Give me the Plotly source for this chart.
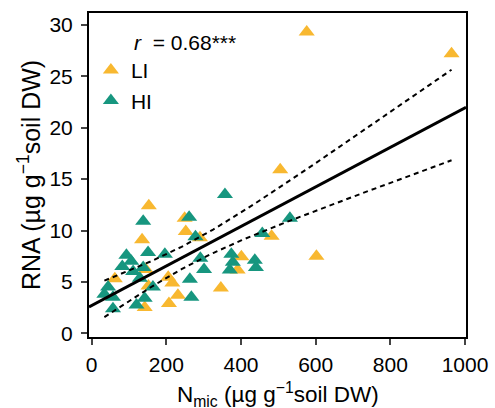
import numpy as np
import plotly.graph_objects as go

# ---- data ----
LI_X = [62, 135, 142, 145, 152, 153, 205, 216, 231, 207, 249, 252, 290, 346, 391, 401, 482, 505, 576, 602, 964]
LI_Y = [5.3, 9.1, 2.5, 6.2, 4.6, 12.4, 5.45, 4.9, 3.7, 2.9, 11.2, 9.9, 9.3, 4.4, 6.15, 7.45, 9.45, 15.9, 29.3, 7.5, 27.2]

HI_X = [34, 44, 57, 57, 82, 93, 106, 111, 120, 129, 138, 138, 142, 151, 164, 196,
        261, 278, 263, 267, 291, 301, 357, 374, 378, 370, 437, 440, 457, 531]
HI_Y = [3.8, 4.5, 3.5, 2.4, 6.5, 7.6, 7.0, 6.0, 2.75, 5.35, 6.4, 10.9, 3.4, 7.85, 4.5, 7.7,
        11.3, 9.4, 5.25, 3.5, 7.3, 6.2, 13.5, 7.7, 6.9, 6.15, 7.1, 6.4, 9.7, 11.2]

X_TICKS = [0, 200, 400, 600, 800, 1000]
Y_TICKS = [0, 5, 10, 15, 20, 25, 30]
X_RANGE = [-7.2, 1002.7]
Y_RANGE = [-0.36, 31.16]
R_TEXT = "<i>r</i>  = 0.68***"
X_TITLE = "N<sub>mic</sub> (µg g<sup>−1</sup>soil DW)"
Y_TITLE = "RNA (µg g<sup>−1</sup>soil DW)"
T_CRIT = 2.01  # t(0.975, n-2)

YELLOW = "#F8B830"
TEAL = "#17967F"

# ---- regression on all points ----
x_all = np.array(LI_X + HI_X, dtype=float)
y_all = np.array(LI_Y + HI_Y, dtype=float)
n = len(x_all)
slope, intercept = np.polyfit(x_all, y_all, 1)
resid = y_all - (intercept + slope * x_all)
s = np.sqrt(np.sum(resid ** 2) / (n - 2))
xbar = x_all.mean()
sxx = np.sum((x_all - xbar) ** 2)

xl = np.linspace(X_RANGE[0], X_RANGE[1], 50)
yl = intercept + slope * xl
xc = np.linspace(x_all.min(), x_all.max(), 100)
yc = intercept + slope * xc
half = T_CRIT * s * np.sqrt(1 / n + (xc - xbar) ** 2 / sxx)

FONT = "Liberation Sans, Arial, Helvetica, sans-serif"

fig = go.Figure()
fig.add_trace(go.Scatter(x=LI_X, y=LI_Y, mode="markers", name="LI",
                         marker=dict(symbol="triangle-up", size=14, color=YELLOW,
                                     line=dict(width=0))))
fig.add_trace(go.Scatter(x=HI_X, y=HI_Y, mode="markers", name="HI",
                         marker=dict(symbol="triangle-up", size=14, color=TEAL,
                                     line=dict(width=0))))
fig.add_trace(go.Scatter(x=xl, y=yl, mode="lines", showlegend=False,
                         line=dict(color="black", width=3)))
fig.add_trace(go.Scatter(x=xc, y=yc + half, mode="lines", showlegend=False,
                         line=dict(color="black", width=2, dash="5px,4px")))
fig.add_trace(go.Scatter(x=xc, y=yc - half, mode="lines", showlegend=False,
                         line=dict(color="black", width=2, dash="5px,4px")))

fig.update_layout(
    width=495, height=408,
    margin=dict(l=89, r=29, t=13, b=71),
    paper_bgcolor="white", plot_bgcolor="white",
    font=dict(family=FONT, size=21, color="black"),
    showlegend=True,
    legend=dict(x=0.005, y=0.886, xanchor="left", yanchor="top",
                bgcolor="rgba(0,0,0,0)", font=dict(size=21),
                tracegroupgap=0, itemwidth=30),
    annotations=[dict(text=R_TEXT, xref="paper", yref="paper", x=0.114, y=0.909,
                      xanchor="left", yanchor="middle", showarrow=False,
                      font=dict(size=21)),
                 dict(text=X_TITLE, xref="paper", yref="paper", x=0.5, y=-0.178,
                      xanchor="center", yanchor="middle", showarrow=False,
                      font=dict(size=22.5))],
)
fig.update_xaxes(range=X_RANGE, tickvals=X_TICKS, ticks="outside", ticklen=6, tickwidth=1.5,
                 showline=True, linewidth=2, linecolor="black", mirror=True,
                 showgrid=False, zeroline=False, ticklabelstandoff=2, automargin=False)
fig.update_yaxes(range=Y_RANGE, tickvals=Y_TICKS, ticks="outside", ticklen=6, tickwidth=1.5,
                 showline=True, linewidth=2, linecolor="black", mirror=True,
                 showgrid=False, zeroline=False, ticklabelstandoff=4, automargin=False,
                 title=dict(text=Y_TITLE, standoff=2))

fig.write_html("out.html", config={"displayModeBar": False},
               post_script="document.body.style.margin='0';document.body.style.padding='0';")
